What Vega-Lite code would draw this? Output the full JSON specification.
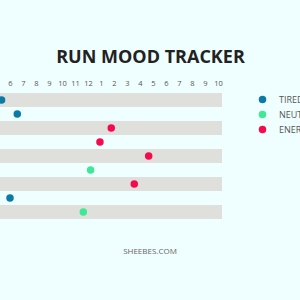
{
  "$schema": "https://vega.github.io/schema/vega-lite/v6.json",
  "width": 222,
  "height": 126,
  "autosize": "none",
  "padding": {"left": 0, "top": 93, "right": 78, "bottom": 81},
  "background": "#EFFFFF",
  "config": {"view": {"stroke": null}, "font": "Open Sans"},
  "title": {
    "text": "SHEEBES.COM",
    "orient": "bottom",
    "anchor": "middle",
    "frame": "group",
    "dx": 39,
    "offset": 29,
    "fontSize": 8,
    "fontWeight": "normal",
    "color": "#666666",
    "font": "Open Sans"
  },
  "datasets": {
    "bands": [{"day": 1}, {"day": 3}, {"day": 5}, {"day": 7}, {"day": 9}],
    "runs": [
      {"day": 1, "hour": 5.35, "mood": "TIRED"},
      {"day": 2, "hour": 6.56, "mood": "TIRED"},
      {"day": 3, "hour": 13.79, "mood": "ENERGIZED"},
      {"day": 4, "hour": 12.92, "mood": "ENERGIZED"},
      {"day": 5, "hour": 16.67, "mood": "ENERGIZED"},
      {"day": 6, "hour": 12.2, "mood": "NEUTRAL"},
      {"day": 7, "hour": 15.56, "mood": "ENERGIZED"},
      {"day": 8, "hour": 6.0, "mood": "TIRED"},
      {"day": 9, "hour": 11.64, "mood": "NEUTRAL"}
    ]
  },
  "layer": [
    {
      "data": {"name": "bands"},
      "mark": {"type": "rect", "color": "#DFDFDB"},
      "encoding": {
        "y": {
          "field": "day",
          "type": "ordinal",
          "scale": {"domain": [1, 2, 3, 4, 5, 6, 7, 8, 9], "paddingInner": 0, "paddingOuter": 0},
          "axis": null
        }
      }
    },
    {
      "data": {"name": "runs"},
      "mark": {"type": "point", "filled": true, "size": 56, "opacity": 1},
      "encoding": {
        "x": {
          "field": "hour",
          "type": "quantitative",
          "scale": {"domain": [5.23, 22.31], "nice": false, "zero": false},
          "axis": {
            "orient": "top",
            "values": [6, 7, 8, 9, 10, 11, 12, 13, 14, 15, 16, 17, 18, 19, 20, 21, 22],
            "labelExpr": "(datum.value - 1) % 12 + 1",
            "domain": false,
            "ticks": false,
            "tickSize": 0,
            "grid": false,
            "labelPadding": 6,
            "labelFontSize": 7.5,
            "labelColor": "#555555",
            "labelFont": "Open Sans",
            "labelFlush": false,
            "title": "RUN MOOD TRACKER",
            "titleFont": "Open Sans",
            "titleFontSize": 18,
            "titleFontWeight": "bold",
            "titleColor": "#222222",
            "titleX": 150,
            "titleY": -31,
            "titleAlign": "center",
            "titleBaseline": "alphabetic",
            "titleAnchor": null
          }
        },
        "y": {"field": "day", "type": "ordinal", "axis": null},
        "color": {
          "field": "mood",
          "type": "nominal",
          "scale": {"domain": ["TIRED", "NEUTRAL", "ENERGIZED"], "range": ["#0B7BA5", "#3DE994", "#F50A4E"]},
          "legend": {
            "orient": "none",
            "legendX": 258,
            "legendY": 2,
            "title": null,
            "padding": 0,
            "symbolType": "circle",
            "symbolSize": 56,
            "symbolStrokeWidth": 0,
            "labelFontSize": 9,
            "labelColor": "#555555",
            "labelFont": "Open Sans",
            "labelOffset": 12,
            "rowPadding": 5
          }
        }
      }
    }
  ]
}
